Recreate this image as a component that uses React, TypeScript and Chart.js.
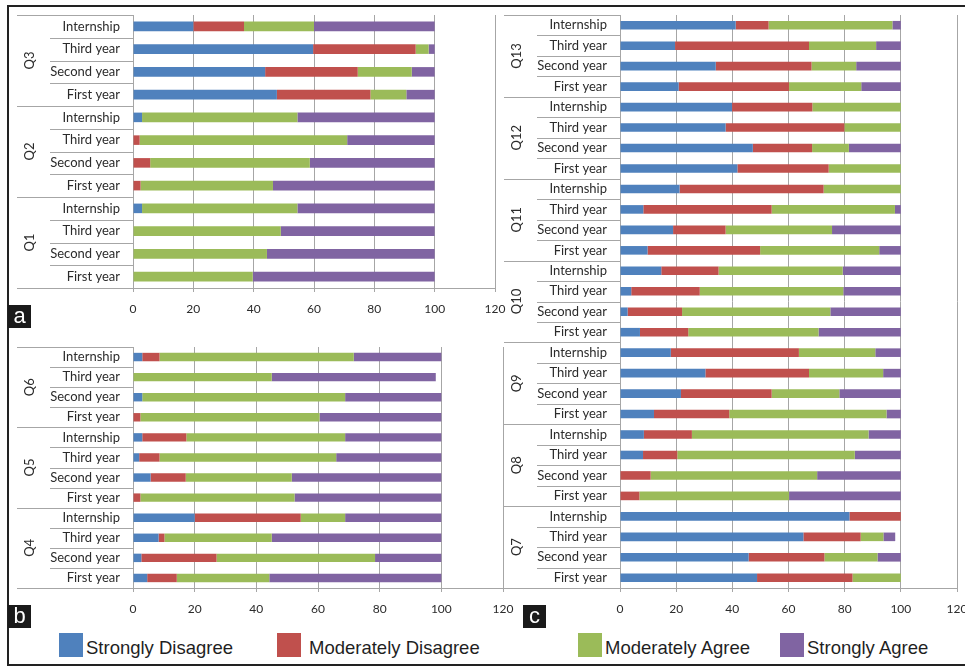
import React, { useEffect, useRef } from "react";
import { Chart, registerables } from "chart.js";

Chart.register(...registerables);

// ---------- data ----------
const ROWS = ["Internship", "Third year", "Second year", "First year"];
const SERIES = ["Strongly Disagree", "Moderately Disagree", "Moderately Agree", "Strongly Agree"];
const X_TICKS = [0, 20, 40, 60, 80, 100, 120];

// Panel a
const GROUPS_A = ["Q3", "Q2", "Q1"];
const SD_A = [20, 59.7, 43.8, 47.7, 3, 0, 0, 0, 3, 0, 0, 0];
const MD_A = [16.8, 34, 30.7, 31, 0, 2.2, 5.7, 2.5, 0, 0, 0, 0];
const MA_A = [23.2, 4.3, 17.9, 11.9, 51.5, 68.8, 52.9, 43.9, 51.5, 49, 44.4, 39.7];
const SA_A = [40, 2, 7.6, 9.4, 45.5, 29, 41.4, 53.6, 45.5, 51, 55.6, 60.3];

// Panel b
const GROUPS_B = ["Q6", "Q5", "Q4"];
const SD_B = [3, 0, 3, 0, 3, 2, 5.7, 0, 20, 8.3, 2.7, 4.6];
const MD_B = [5.6, 0, 0, 2.4, 14.3, 6.6, 11.4, 2.4, 34.4, 1.9, 24.4, 9.6];
const MA_B = [63, 45, 65.8, 58.1, 51.5, 57.3, 34.4, 50, 14.4, 34.8, 51.4, 30];
const SA_B = [28.4, 53.2, 31.2, 39.5, 31.2, 34.1, 48.5, 47.6, 31.2, 55, 21.5, 55.8];

// Panel c
const GROUPS_C = ["Q13", "Q12", "Q11", "Q10", "Q9", "Q8", "Q7"];
const SD_C = [
  41.2, 19.6, 34.1, 20.9,
  39.9, 37.6, 47.3, 41.8,
  21.2, 8.3, 18.9, 9.8,
  14.7, 4, 2.7, 7.1,
  18.1, 30.4, 21.7, 12.1,
  8.5, 8.2, 0, 0,
  81.7, 65.3, 45.8, 48.8,
];
const MD_C = [
  11.7, 47.7, 34.1, 39.3,
  28.6, 42.3, 21.1, 32.5,
  51.3, 45.7, 18.7, 40.1,
  20.4, 24.4, 19.4, 17.2,
  45.6, 36.9, 32.3, 26.8,
  17.1, 12.2, 10.9, 6.9,
  18.3, 20.4, 27, 34,
];
const MA_C = [
  44.1, 23.9, 15.9, 25.7,
  31.5, 20.1, 13.1, 25.7,
  27.5, 43.9, 37.9, 42.4,
  44.2, 51.1, 52.8, 46.4,
  27.2, 26.4, 24.1, 56,
  62.9, 63.2, 59.3, 53.3,
  0, 8.1, 18.9, 17.2,
];
const SA_C = [
  3, 8.8, 15.9, 14.1,
  0, 0, 18.5, 0,
  0, 2.1, 24.5, 7.7,
  20.7, 20.5, 25.1, 29.3,
  9.1, 6.3, 21.9, 5.1,
  11.5, 16.4, 29.8, 39.8,
  0, 4.2, 8.3, 0,
];

// ---------- styles ----------
const COLORS = ["#4F81BD", "#C0504D", "#9BBB59", "#8064A2"];
const GRID = "#a6a6a6";
const TEXT = "#2b2b2b";
const FONT = "Lato, 'Open Sans', sans-serif";

function groupPlugin(groups: string[], rowsPer: number) {
  return {
    id: "groupLabels",
    afterDraw(chart: any) {
      const ctx = chart.ctx;
      const ys = chart.scales.y;
      const left = chart.chartArea.left;
      const n = chart.data.labels.length;
      const p0 = ys.getPixelForValue(0);
      const p1 = ys.getPixelForValue(1);
      const band = p1 - p0;
      ctx.save();
      ctx.strokeStyle = GRID;
      ctx.lineWidth = 1;
      for (let k = 0; k <= n; k++) {
        const yy = Math.round(p0 - band / 2 + k * band) + 0.5;
        const x0 = k % rowsPer === 0 ? left - 116 : left - 83;
        ctx.beginPath();
        ctx.moveTo(x0, yy);
        ctx.lineTo(left, yy);
        ctx.stroke();
      }
      ctx.fillStyle = TEXT;
      ctx.font = `13px ${FONT}`;
      ctx.textAlign = "center";
      ctx.textBaseline = "middle";
      groups.forEach((g, gi) => {
        const cy = p0 - band / 2 + (gi * rowsPer + rowsPer / 2) * band;
        ctx.save();
        ctx.translate(left - 103, cy);
        ctx.rotate(-Math.PI / 2);
        ctx.fillText(g, 0, 0);
        ctx.restore();
      });
      ctx.restore();
    },
  };
}

type PanelProps = {
  left: number;
  top: number;
  width: number;
  height: number;
  padTop: number;
  padRight: number;
  groups: string[];
  sd: number[];
  md: number[];
  ma: number[];
  sa: number[];
};

function Panel(p: PanelProps) {
  const ref = useRef<HTMLCanvasElement>(null);
  useEffect(() => {
    const labels: string[] = [];
    p.groups.forEach(() => ROWS.forEach((r) => labels.push(r)));
    const values = [p.sd, p.md, p.ma, p.sa];
    const chart = new Chart(ref.current as HTMLCanvasElement, {
      type: "bar",
      data: {
        labels,
        datasets: SERIES.map((s, i) => ({
          label: s,
          data: values[i],
          backgroundColor: COLORS[i],
          borderWidth: 0,
          barPercentage: 0.42,
          categoryPercentage: 1,
        })),
      },
      options: {
        indexAxis: "y",
        animation: false,
        responsive: false,
        maintainAspectRatio: false,
        layout: { padding: { top: p.padTop, right: p.padRight, left: 0, bottom: 0 } },
        plugins: { legend: { display: false }, tooltip: { enabled: false } },
        scales: {
          x: {
            stacked: true,
            min: X_TICKS[0],
            max: X_TICKS[X_TICKS.length - 1],
            afterBuildTicks: (s: any) => {
              s.ticks = X_TICKS.map((v) => ({ value: v }));
            },
            ticks: {
              font: { family: FONT, size: 12 },
              color: TEXT,
              padding: 10,
              maxRotation: 0,
            },
            grid: { color: GRID, lineWidth: 1, tickLength: 4, drawTicks: true },
            border: { color: GRID, width: 1 },
            afterFit: (s: any) => {
              s.height = 40;
            },
          },
          y: {
            stacked: true,
            grid: { display: false, drawTicks: false, tickLength: 0 },
            border: { display: true, color: GRID, width: 1 },
            ticks: {
              font: { family: FONT, size: 13 },
              color: TEXT,
              padding: 13,
              autoSkip: false,
            },
            afterFit: (s: any) => {
              s.width = 125;
            },
          },
        },
      },
      plugins: [groupPlugin(p.groups, ROWS.length)],
    } as any);
    return () => chart.destroy();
  }, []);
  return (
    <canvas
      ref={ref}
      width={p.width}
      height={p.height}
      style={{ position: "absolute", left: p.left, top: p.top, width: p.width, height: p.height }}
    />
  );
}

function PanelTag({ text, left, top }: { text: string; left: number; top: number }) {
  return (
    <div
      style={{
        position: "absolute",
        left,
        top,
        width: 23,
        height: 23,
        background: "#1a1a1a",
        color: "#fff",
        fontFamily: "'Liberation Sans', Arial, sans-serif",
        fontSize: 22,
        lineHeight: "21px",
        textAlign: "center",
      }}
    >
      {text}
    </div>
  );
}

function LegendItem({ color, label, boxLeft, textLeft }: { color: string; label: string; boxLeft: number; textLeft: number }) {
  return (
    <>
      <div style={{ position: "absolute", left: boxLeft, top: 633, width: 24, height: 24, background: color }} />
      <div
        style={{
          position: "absolute",
          left: textLeft,
          top: 636,
          height: 24,
          lineHeight: "24px",
          fontFamily: "'Liberation Sans', Arial, sans-serif",
          fontSize: 18.5,
          color: "#1f1f1f",
          whiteSpace: "nowrap",
        }}
      >
        {label}
      </div>
    </>
  );
}

// chart-area targets: a: x 133..495, y 15..288 ; b: x 133..503, y 347..588 ; c: x 620..957, y 15..588
const PAD_TOP = 24;
const PAD_RIGHT = 26;

export default function App() {
  return (
    <div
      style={{
        position: "absolute",
        left: 0,
        top: 0,
        width: 965,
        height: 667,
        overflow: "hidden",
        background: "#fff",
      }}
    >
      <div
        style={{
          position: "absolute",
          left: 7,
          top: 5,
          width: 1000,
          height: 657,
          borderTop: "2px solid #222",
          borderLeft: "2px solid #222",
          borderBottom: "2px solid #222",
        }}
      />
      <Panel left={8} top={15 - PAD_TOP} width={495 - 8 + PAD_RIGHT} height={288 - 15 + PAD_TOP + 40} padTop={PAD_TOP} padRight={PAD_RIGHT} groups={GROUPS_A} sd={SD_A} md={MD_A} ma={MA_A} sa={SA_A} />
      <Panel left={8} top={347 - PAD_TOP} width={503 - 8 + PAD_RIGHT} height={588 - 347 + PAD_TOP + 40} padTop={PAD_TOP} padRight={PAD_RIGHT} groups={GROUPS_B} sd={SD_B} md={MD_B} ma={MA_B} sa={SA_B} />
      <Panel left={495} top={15 - PAD_TOP} width={957 - 495 + PAD_RIGHT} height={588 - 15 + PAD_TOP + 40} padTop={PAD_TOP} padRight={PAD_RIGHT} groups={GROUPS_C} sd={SD_C} md={MD_C} ma={MA_C} sa={SA_C} />
      <PanelTag text="a" left={8} top={305} />
      <PanelTag text="b" left={8} top={605} />
      <PanelTag text="c" left={523} top={605} />
      <LegendItem color={COLORS[0]} label={SERIES[0]} boxLeft={59} textLeft={86} />
      <LegendItem color={COLORS[1]} label={SERIES[1]} boxLeft={277} textLeft={309} />
      <LegendItem color={COLORS[2]} label={SERIES[2]} boxLeft={578} textLeft={605} />
      <LegendItem color={COLORS[3]} label={SERIES[3]} boxLeft={780} textLeft={807} />
    </div>
  );
}
